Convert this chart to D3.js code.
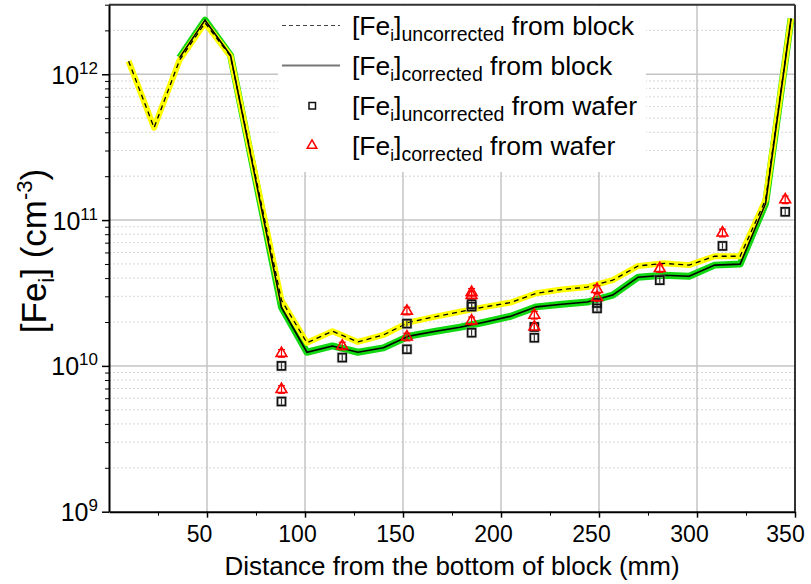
<!DOCTYPE html>
<html>
<head>
<meta charset="utf-8">
<script src="https://cdn.jsdelivr.net/npm/d3@7"></script>
<style>
body{margin:0;background:#fff;}
text{font-family:"Liberation Sans",Arial,sans-serif;fill:#000;}
</style>
</head>
<body>
<svg id="chart" width="811" height="584"></svg>
<script>
// block profile (mm from bottom)
var blockX = [10,23,36,49,62,88,101,114,127,140,153,166,179,192,205,218,231,244,257,270,283,296,309,322,335,348];
var blockUncorr = [1.23e12,4.3e11,1.25e12,2.25e12,1.33e12,2.82e10,1.44e10,1.73e10,1.46e10,1.63e10,1.99e10,2.17e10,2.35e10,2.54e10,2.72e10,3.15e10,3.34e10,3.47e10,3.87e10,4.85e10,5.05e10,4.91e10,5.65e10,5.65e10,1.38e11,2.41e12];
var blockCorr = [null,null,1.3e12,2.35e12,1.35e12,2.52e10,1.24e10,1.37e10,1.24e10,1.33e10,1.60e10,1.72e10,1.84e10,2.0e10,2.19e10,2.54e10,2.65e10,2.74e10,3.06e10,4.06e10,4.18e10,4.12e10,4.91e10,4.99e10,1.3e11,2.41e12];

// wafer measurements
var waferX = [88,88,119,152,152,185,185,185,217,217,249,249,281,313,345];
var waferUncorr = [1.0e10,5.7e9,1.14e10,1.30e10,1.95e10,2.65e10,2.55e10,1.69e10,1.85e10,1.56e10,2.7e10,2.48e10,3.87e10,6.65e10,1.14e11];
var waferCorr = [1.22e10,6.9e9,1.37e10,1.58e10,2.38e10,3.2e10,3.05e10,2.04e10,2.23e10,1.85e10,3.35e10,2.95e10,4.66e10,8.17e10,1.38e11];
var waferErr = 0.06;

var xTicks = [50,100,150,200,250,300,350];
var xMinor = [25,75,125,175,225,275,325];
var yTicks = [1e9,1e10,1e11,1e12];

var pLeft=109, pRight=795, pTop=4.7, pBottom=511.7;

var svg = d3.select("#chart");

var x = d3.scaleLinear().domain([0,350]).range([pLeft,pRight]);
var y = d3.scaleLog().domain([1e9,3e12]).range([pBottom,pTop]);

// minor horizontal grid
var yMinor=[];
yTicks.forEach(function(d){
    for(var k=2;k<10;k++){ if(k*d<=3e12) yMinor.push(k*d); }
});
svg.append("g").selectAll("line").data(yMinor).enter().append("line")
    .attr("x1",pLeft).attr("x2",pRight)
    .attr("y1",function(d){return y(d);}).attr("y2",function(d){return y(d);})
    .attr("stroke","#d6d6d6").attr("stroke-width",1).attr("stroke-dasharray","2,2");

// major grid
svg.append("g").selectAll("line").data([1e10,1e11,1e12]).enter().append("line")
    .attr("x1",pLeft).attr("x2",pRight)
    .attr("y1",function(d){return y(d);}).attr("y2",function(d){return y(d);})
    .attr("stroke","#c4c4c4").attr("stroke-width",1.5);
svg.append("g").selectAll("line").data([50,100,150,200,250,300]).enter().append("line")
    .attr("y1",pTop).attr("y2",pBottom)
    .attr("x1",function(d){return x(d);}).attr("x2",function(d){return x(d);})
    .attr("stroke","#c4c4c4").attr("stroke-width",1.5);

// legend background hides the grid
svg.append("rect").attr("x",278).attr("y",6).attr("width",368).attr("height",166).attr("fill","#fff");

svg.append("clipPath").attr("id","clip").append("rect")
    .attr("x",pLeft).attr("y",pTop).attr("width",pRight-pLeft).attr("height",pBottom-pTop);

var plot = svg.append("g").attr("clip-path","url(#clip)");

function lineOf(vals){
    return d3.line()
        .defined(function(d,i){return vals[i]!=null;})
        .x(function(d,i){return x(blockX[i]);})
        .y(function(d,i){return y(vals[i]==null?1e10:vals[i]);})(blockX);
}

plot.append("path").attr("d",lineOf(blockCorr)).attr("fill","none")
    .attr("stroke","#12d812").attr("stroke-width",7).attr("stroke-linejoin","round");
plot.append("path").attr("d",lineOf(blockUncorr)).attr("fill","none")
    .attr("stroke","#ffff00").attr("stroke-width",6).attr("stroke-linejoin","round");
plot.append("path").attr("d",lineOf(blockCorr)).attr("fill","none")
    .attr("stroke","#000").attr("stroke-width",1.6);
plot.append("path").attr("d",lineOf(blockUncorr)).attr("fill","none")
    .attr("stroke","#000").attr("stroke-width",1.3).attr("stroke-dasharray","5,4");

// wafer error bars + markers
function errBars(vals,color){
    var g = plot.append("g").attr("stroke",color).attr("stroke-width",1.2);
    vals.forEach(function(v,i){
        var cx=x(waferX[i]), y1=y(v*(1+waferErr)), y2=y(v*(1-waferErr));
        g.append("line").attr("x1",cx).attr("x2",cx).attr("y1",y1).attr("y2",y2);
        g.append("line").attr("x1",cx-3.5).attr("x2",cx+3.5).attr("y1",y1).attr("y2",y1);
        g.append("line").attr("x1",cx-3.5).attr("x2",cx+3.5).attr("y1",y2).attr("y2",y2);
    });
}
errBars(waferUncorr,"#333");
errBars(waferCorr,"#ff0000");

var tri = d3.symbol().type(d3.symbolTriangle).size(50);
// soft grey halo behind the squares
plot.append("g").selectAll("rect").data(waferUncorr).enter().append("rect")
    .attr("x",function(d,i){return x(waferX[i])-4;})
    .attr("y",function(d){return y(d)-4;})
    .attr("width",8).attr("height",8)
    .attr("fill","none").attr("stroke","#aaa").attr("stroke-width",3).attr("stroke-opacity",0.5);
plot.append("g").selectAll("rect").data(waferUncorr).enter().append("rect")
    .attr("x",function(d,i){return x(waferX[i])-4;})
    .attr("y",function(d){return y(d)-4;})
    .attr("width",8).attr("height",8)
    .attr("fill","none").attr("stroke","#111").attr("stroke-width",1.6);
plot.append("g").selectAll("path").data(waferCorr).enter().append("path")
    .attr("d",tri)
    .attr("transform",function(d,i){return "translate("+x(waferX[i])+","+y(d)+")";})
    .attr("fill","none").attr("stroke","#ff0000").attr("stroke-width",1.6);

// frame
svg.append("line").attr("x1",pLeft).attr("x2",pRight).attr("y1",pTop).attr("y2",pTop)
    .attr("stroke","#333").attr("stroke-width",2);
svg.append("line").attr("x1",pRight).attr("x2",pRight).attr("y1",pTop).attr("y2",pBottom)
    .attr("stroke","#333").attr("stroke-width",2);

// axes
var xAxis = svg.append("g").attr("transform","translate(0,"+pBottom+")")
    .call(d3.axisBottom(x).tickValues(xTicks).tickSize(6).tickSizeOuter(0).tickPadding(8));
svg.append("g").attr("transform","translate(0,"+pBottom+")")
    .call(d3.axisBottom(x).tickValues(xMinor).tickSize(4).tickFormat("").tickSizeOuter(0))
    .select(".domain").remove();
xAxis.selectAll("text").attr("font-size",23).attr("font-family","Liberation Sans, Arial")
    .attr("fill","#000").attr("dx",function(d){return d==350?-10:-8;});
xAxis.select(".domain").attr("stroke","#000").attr("stroke-width",2);
xAxis.selectAll(".tick line").attr("stroke-width",1.5);

var yAxis = svg.append("g").attr("transform","translate("+pLeft+",0)")
    .call(d3.axisLeft(y).tickValues(yTicks).tickFormat("").tickSize(7).tickSizeOuter(0));
svg.append("g").attr("transform","translate("+pLeft+",0)")
    .call(d3.axisLeft(y).tickValues(yMinor).tickFormat("").tickSize(4).tickSizeOuter(0))
    .select(".domain").remove();
yAxis.select(".domain").attr("stroke","#000").attr("stroke-width",2);
yAxis.selectAll(".tick line").attr("stroke-width",1.5);

yTicks.forEach(function(v){
    var t = svg.append("text").attr("x",98).attr("y",y(v)+9.5)
        .attr("text-anchor","end").attr("font-size",25);
    t.append("tspan").text("10");
    t.append("tspan").attr("font-size",17).attr("dy",-10).text(Math.round(Math.log10(v)));
});

// axis titles
svg.append("text").attr("x",(pLeft+pRight)/2).attr("y",575)
    .attr("text-anchor","middle").attr("font-size",26)
    .text("Distance from the bottom of block (mm)");

var yt = svg.append("text").attr("transform","translate(46,251) rotate(-90)")
    .attr("text-anchor","middle").attr("font-size",35);
yt.append("tspan").text("[Fe");
yt.append("tspan").attr("font-size",22).attr("dy",8).text("i");
yt.append("tspan").attr("dy",-8).text("] (cm");
yt.append("tspan").attr("font-size",22).attr("dy",-14).text("-3");
yt.append("tspan").attr("dy",14).text(")");

// legend
var legendRows = [
    {kind:"dash", sub:"uncorrected", tail:" from block"},
    {kind:"solid", sub:"corrected", tail:" from block"},
    {kind:"square", sub:"uncorrected", tail:" from wafer"},
    {kind:"tri", sub:"corrected", tail:" from wafer"}
];
legendRows.forEach(function(r,i){
    var by = 35 + i*40, cy = by - 9.5;
    if(r.kind=="dash"){
        svg.append("line").attr("x1",282).attr("x2",340).attr("y1",cy).attr("y2",cy)
            .attr("stroke","#444").attr("stroke-width",1).attr("stroke-dasharray","4,3");
    } else if(r.kind=="solid"){
        svg.append("line").attr("x1",282).attr("x2",340).attr("y1",cy).attr("y2",cy)
            .attr("stroke","#777").attr("stroke-width",2);
    } else if(r.kind=="square"){
        svg.append("rect").attr("x",309).attr("y",cy-3).attr("width",6.5).attr("height",6.5)
            .attr("fill","none").attr("stroke","#111").attr("stroke-width",1.5);
    } else {
        svg.append("path").attr("d",d3.symbol().type(d3.symbolTriangle).size(40))
            .attr("transform","translate(312,"+cy+")")
            .attr("fill","none").attr("stroke","#ff0000").attr("stroke-width",1.5);
    }
    var t = svg.append("text").attr("x",352).attr("y",by).attr("font-size",26.5);
    t.append("tspan").text("[Fe");
    t.append("tspan").attr("font-size",17).attr("dy",6).text("i");
    t.append("tspan").attr("dy",-6).text("]");
    t.append("tspan").attr("font-size",19.5).attr("dy",6).text(r.sub);
    t.append("tspan").attr("dy",-6).text(r.tail);
});
</script>
</body>
</html>
